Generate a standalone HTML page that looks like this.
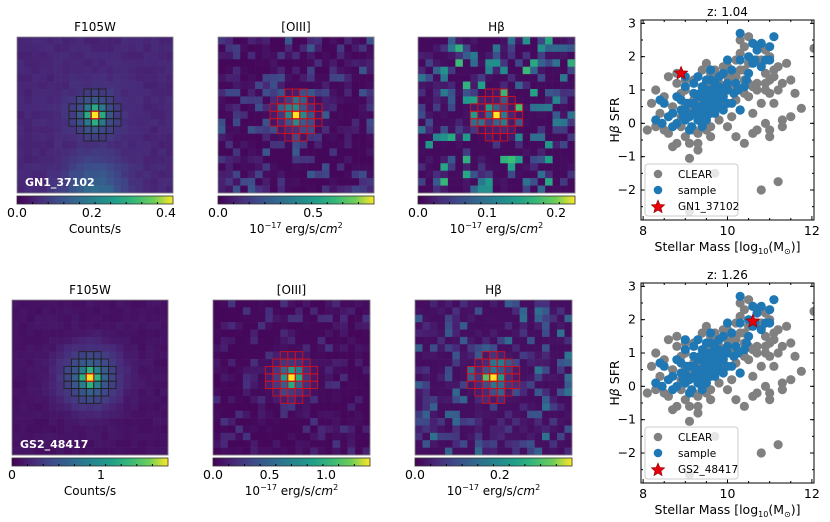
<!DOCTYPE html>
<html><head><meta charset="utf-8"><style>
html,body{margin:0;padding:0;background:#fff;}
svg{display:block;font-family:"DejaVu Sans","Liberation Sans",sans-serif;}
</style></head><body>
<svg id="fig" width="830" height="522" viewBox="0 0 830 522" xmlns="http://www.w3.org/2000/svg">
<defs>
<linearGradient id="vir" x1="0" x2="1" y1="0" y2="0">
<stop offset="0" stop-color="#440154"/><stop offset="0.13" stop-color="#482878"/><stop offset="0.25" stop-color="#3e4989"/><stop offset="0.38" stop-color="#31688e"/><stop offset="0.5" stop-color="#26828e"/><stop offset="0.63" stop-color="#1f9e89"/><stop offset="0.75" stop-color="#35b779"/><stop offset="0.88" stop-color="#6ece58"/><stop offset="1" stop-color="#fde725"/>
</linearGradient>
</defs>
</svg>
<script>
// Scatter data: [stellar mass, Hbeta SFR]
const clearMass = [8.1,8.2,8.3,8.3,8.4,8.5,8.6,8.6,8.7,8.8,8.8,8.9,9.0,9.0,9.1,9.1,9.2,9.2,9.3,9.3,9.4,9.4,9.5,9.5,9.6,9.6,9.7,9.8,9.8,9.9,10.0,10.0,10.1,10.1,10.2,10.2,10.3,10.3,10.4,10.4,10.5,10.5,10.6,10.6,10.7,10.7,10.8,10.8,10.9,10.9,11.0,11.0,11.1,11.1,11.2,11.3,11.3,11.4,11.5,11.6,12.05,11.75,11.2,10.8,9.7,9.1,10.4,10.6,11.0,8.9,9.0,10.3,10.5,10.9,11.3,11.0,10.2,9.9,9.6,10.1,10.9,11.5,8.5,8.7,9.3,9.8,8.9,9.1,9.3,9.5,9.7,9.9,10.1,10.3,10.5,10.7,10.9,11.1,9.2,9.4,9.6,9.8,10.0,10.2,10.4,10.6,10.8,11.0,11.2,8.8,9.0,9.2,9.5,9.7,10.0,10.4,10.7];
const clearSFR  = [-0.2,0.6,1.0,-0.1,0.3,0.8,1.4,-0.3,0.5,-0.6,1.2,0.2,-0.4,1.0,-1.05,-0.6,0.4,1.3,-0.3,-0.6,1.6,0.0,1.8,-0.2,-0.4,1.5,1.3,1.2,0.1,1.7,1.4,-0.1,1.0,0.2,1.9,-0.4,2.1,0.4,2.3,1.6,0.8,1.8,2.4,0.3,1.2,-0.2,2.3,0.6,1.5,0.0,2.0,-0.2,1.6,0.6,1.7,1.2,-0.1,1.8,1.3,0.9,2.25,0.45,-1.75,-2.0,-1.5,-2.65,-0.6,-0.3,-0.4,-0.1,0.6,2.5,2.6,2.2,0.1,0.9,0.7,0.5,0.9,1.5,1.0,0.2,-0.2,-0.7,-0.8,0.8,0.9,0.3,0.1,0.5,1.6,1.1,1.3,1.6,1.2,1.9,1.2,1.4,-0.2,0.6,-0.1,0.7,1.2,1.4,0.9,1.1,1.9,1.3,1.0,1.5,1.3,0.7,1.2,1.5,1.7,1.3,1.0];
const sampleMass = [8.3,8.4,8.45,8.5,8.6,8.7,8.8,8.8,8.9,9.0,9.0,9.1,9.1,9.2,9.2,9.3,9.3,9.4,9.4,9.5,9.5,9.6,9.6,9.7,9.7,9.8,9.8,9.9,9.9,10.0,10.0,10.1,10.2,10.3,10.3,10.4,10.5,10.5,10.6,10.7,10.8,10.8,10.9,11.0,11.0,11.1,10.3,9.4,9.6,10.6,9.5,9.2,9.0,10.15,8.9,9.0,9.1,9.2,9.3,9.3,9.4,9.4,9.5,9.5,9.5,9.6,9.6,9.6,9.7,9.7,9.8,9.8,9.9,9.9,10.0,10.0,9.15,9.25,9.35,9.45,9.55,9.65,9.75,9.85,8.7,8.95,9.05,9.35,9.55,9.75,10.1,10.25,10.45,10.65];
const sampleSFR  = [0.1,0.7,0.0,0.6,0.2,0.3,0.0,0.8,0.4,0.1,1.1,0.6,-0.2,0.3,0.9,1.4,0.5,0.8,0.2,1.0,0.4,0.6,1.3,0.9,0.3,1.1,0.5,0.8,1.5,1.0,1.9,0.6,1.2,1.9,0.4,1.1,1.5,2.0,1.8,2.2,2.4,1.7,1.9,2.3,1.9,2.6,2.7,-0.1,1.6,2.4,0.1,1.2,1.4,0.9,0.7,0.4,0.2,0.6,0.1,0.8,0.5,1.1,0.7,1.3,0.2,0.3,0.8,1.0,0.5,1.2,0.7,1.4,0.4,1.0,0.6,1.2,-0.1,0.4,0.9,0.6,0.9,0.5,0.7,0.9,-0.1,0.2,0.6,0.3,0.6,1.0,1.6,1.0,1.3,1.9];
const xTicks = [8,10,12];
const yTicks = [3,2,1,0,-1,-2];
const panels = [
  {z:"1.04", name:"GN1_37102", starMass:8.9, starSFR:1.5, top:20},
  {z:"1.26", name:"GS2_48417", starMass:10.6, starSFR:1.95, top:283}
];
const svg = document.getElementById('fig');
const NS = "http://www.w3.org/2000/svg";
function mk(tag, attrs, parent){const e=document.createElementNS(NS,tag);for(const k in attrs)e.setAttribute(k,attrs[k]);(parent||svg).appendChild(e);return e;}
function txt(s,x,y,attrs,parent){const e=mk('text',Object.assign({x:x,y:y},attrs),parent);e.innerHTML=s;return e;}

const vs=[[68,1,84],[72,40,120],[62,73,137],[49,104,142],[38,130,142],[31,158,137],[53,183,121],[110,206,88],[253,231,37]];
function vir(t){t=Math.max(0,Math.min(1,t));const p=t*(vs.length-1);const i=Math.min(vs.length-2,Math.floor(p));const f=p-i;const c=vs[i].map((v,k)=>Math.round(v+(vs[i+1][k]-v)*f));return `rgb(${c[0]},${c[1]},${c[2]})`;}
function hash(a,b,s){let h=Math.sin(a*127.1+b*311.7+s*74.7)*43758.5453;return h-Math.floor(h);}

const units="10<tspan dy='-5' font-size='8'>−17</tspan><tspan dy='5'> erg/s/</tspan><tspan font-style='italic'>cm</tspan><tspan dy='-5' font-size='8'>2</tspan>";
const imgs=[
 {title:"F105W",x:17,y:37,w:156,h:156,n:21,type:"f",seed:1,label:"GN1_37102",ticks:[["0.0",0],["0.2",0.48],["0.4",0.955]],cb:"Counts/s",grid:"#222"},
 {title:"[OIII]",x:218,y:37,w:156,h:156,n:21,type:"o",seed:2,ticks:[["0.0",0],["0.5",0.61]],cb:units,grid:"#d0101a"},
 {title:"Hβ",x:418,y:37,w:157,h:156,n:21,type:"h",seed:3,ticks:[["0.0",0],["0.1",0.44],["0.2",0.88]],cb:units,grid:"#d0101a"},
 {title:"F105W",x:12,y:300,w:156,h:155,n:21,type:"f2",seed:4,label:"GS2_48417",ticks:[["0",0],["1",0.57]],cb:"Counts/s",grid:"#222"},
 {title:"[OIII]",x:213,y:300,w:157,h:155,n:21,type:"o2",seed:5,ticks:[["0.0",0],["0.5",0.36],["1.0",0.72]],cb:units,grid:"#d0101a"},
 {title:"Hβ",x:415,y:300,w:157,h:155,n:21,type:"h2",seed:6,ticks:[["0.0",0],["0.2",0.54]],cb:units,grid:"#d0101a"}
];
const gridMask=[[0,0,1,1,1,0,0],[0,1,1,1,1,1,0],[1,1,1,1,1,1,1],[1,1,1,1,1,1,1],[1,1,1,1,1,1,1],[0,1,1,1,1,1,0],[0,0,1,1,1,0,0]];
imgs.forEach((p,pi)=>{
  const g=mk('g',{});
  
  
  const t=txt(p.title,p.x+p.w/2,p.y-6,{'text-anchor':'middle','font-size':'12'},g);
  
  
  const cs=p.w/p.n, ch=p.h/p.n, c=10;
  for(let i=0;i<p.n;i++)for(let j=0;j<p.n;j++){
    const dx=j-c, dy=i-c, r2=dx*dx+dy*dy, nz=hash(i,j,p.seed);
    let v;
    if(p.type==="f"){v=0.1+0.04*nz+0.85*Math.exp(-r2/1.2)+0.22*Math.exp(-r2/10);if(i>14)v+=0.28*Math.exp(-((j-10)*(j-10))/18)*(i-14)/6;}
    else if(p.type==="f2"){v=0.04+0.03*nz+0.9*Math.exp(-r2/1.0)+0.35*Math.exp(-r2/14);}
    else if(p.type==="o"){v=0.02+0.3*Math.pow(nz,4)+0.95*Math.exp(-r2/0.8)+0.3*Math.exp(-r2/5);}
    else if(p.type==="o2"){v=0.02+0.15*Math.pow(nz,4)+0.95*Math.exp(-r2/0.8)+0.35*Math.exp(-r2/5);}
    else if(p.type==="h"){v=0.03+0.75*Math.pow(nz,5)+0.9*Math.exp(-r2/0.7)+0.15*Math.exp(-r2/5);}
    else {v=0.04+0.4*Math.pow(nz,4)+0.95*Math.exp(-r2/0.6)+0.25*Math.exp(-r2/5);}
    mk('rect',{x:(p.x+j*cs).toFixed(2),y:(p.y+i*ch).toFixed(2),width:(cs+0.3).toFixed(2),height:(ch+0.3).toFixed(2),fill:vir(v)},g);
  }
  for(let a=0;a<7;a++)for(let b=0;b<7;b++)if(gridMask[a][b])
    mk('rect',{x:p.x+(c-3+b)*cs,y:p.y+(c-3+a)*ch,width:cs,height:ch,fill:'none',stroke:p.grid,'stroke-width':'0.9'},g);
  mk('rect',{x:p.x+c*cs,y:p.y+c*ch,width:cs,height:ch,fill:'#fde725',stroke:'#d0101a','stroke-width':'1.2'},g);
  mk('rect',{x:p.x,y:p.y,width:p.w,height:p.h,fill:'none',stroke:'#888','stroke-width':'0.8'},g);
  if(p.label){const l=txt(p.label,p.x+8,p.y+p.h-7,{'font-size':'11','font-weight':'bold',fill:'#fff'},g);}
  const cy=p.y+p.h+3;
  const cb=mk('rect',{x:p.x,y:cy,width:p.w,height:8,fill:'url(#vir)',stroke:'#333','stroke-width':'0.8'},g);
  
  
  for(let k=1;k<10;k++)mk('line',{x1:p.x+p.w*k/10,x2:p.x+p.w*k/10,y1:cy+6,y2:cy+8,stroke:'#000','stroke-width':'1'},g);
  p.ticks.forEach(tk=>{const tt=txt(tk[0],p.x+p.w*tk[1],cy+21,{'text-anchor':'middle','font-size':'12.5'},g);});
  const cl=txt(p.cb,p.x+p.w/2,cy+37,{'text-anchor':'middle','font-size':'12'},g);
  
  
});

panels.forEach((pn,pi)=>{
  const L=641,R=814,T=pn.top,B=pn.top+200;
  const xmin=7.95,xmax=12.05,ymin=-2.9,ymax=3.1;
  const X=v=>L+(v-xmin)/(xmax-xmin)*(R-L);
  const Y=v=>B-(v-ymin)/(ymax-ymin)*(B-T);
  const g=mk('g',{});
  
  
  const cp='cp'+pi;
  const clip=mk('clipPath',{id:cp},g);mk('rect',{x:L,y:T,width:R-L,height:B-T},clip);
  const pts=mk('g',{'clip-path':`url(#${cp})`},g);
  clearMass.forEach((m,i)=>{const c=mk('circle',{cx:X(m),cy:Y(clearSFR[i]),r:4.6,fill:'#808080'},pts);});
  sampleMass.forEach((m,i)=>{const c=mk('circle',{cx:X(m),cy:Y(sampleSFR[i]),r:4.6,fill:'#1f77b4'},pts);});
  const star=(cx,cy,r,parent)=>{let d='';for(let k=0;k<10;k++){const a=-Math.PI/2+k*Math.PI/5;const rr=k%2?r*0.45:r;d+=(k?'L':'M')+(cx+rr*Math.cos(a)).toFixed(2)+','+(cy+rr*Math.sin(a)).toFixed(2);}return mk('path',{d:d+'Z',fill:'#e8000b',stroke:'#800','stroke-width':'0.6'},parent);};
  const s=star(X(pn.starMass),Y(pn.starSFR),7,pts);
  
  
  mk('rect',{x:L,y:T,width:R-L,height:B-T,fill:'none',stroke:'#000','stroke-width':'1'},g);
  xTicks.forEach(v=>{mk('line',{x1:X(v),x2:X(v),y1:B,y2:B-4,stroke:'#000'},g);mk('line',{x1:X(v),x2:X(v),y1:T,y2:T+4,stroke:'#000'},g);
    const t=txt(v,X(v),B+15,{'text-anchor':'middle','font-size':'12.5'},g);});
  for(let v=8.5;v<12;v+=0.5){mk('line',{x1:X(v),x2:X(v),y1:B,y2:B-2,stroke:'#000'},g);mk('line',{x1:X(v),x2:X(v),y1:T,y2:T+2,stroke:'#000'},g);}
  yTicks.forEach(v=>{mk('line',{x1:L,x2:L+4,y1:Y(v),y2:Y(v),stroke:'#000'},g);mk('line',{x1:R,x2:R-4,y1:Y(v),y2:Y(v),stroke:'#000'},g);
    const t=txt(String(v).replace('-','−'),L-5,Y(v)+4,{'text-anchor':'end','font-size':'12.5'},g);});
  for(let v=-2.5;v<3;v+=0.5){mk('line',{x1:L,x2:L+2,y1:Y(v),y2:Y(v),stroke:'#000'},g);mk('line',{x1:R,x2:R-2,y1:Y(v),y2:Y(v),stroke:'#000'},g);}
  const tt=txt('z: '+pn.z,(L+R)/2,T-4,{'text-anchor':'middle','font-size':'12'},g);
  const xl=txt('Stellar Mass [log<tspan dy="3" font-size="8">10</tspan><tspan dy="-3">(M</tspan><tspan dy="3" font-size="8">⊙</tspan><tspan dy="-3">)]</tspan>',(L+R)/2,B+31,{'text-anchor':'middle','font-size':'12.5'},g);
  
  const yl=txt('H<tspan font-style="italic">β</tspan> SFR',0,0,{'text-anchor':'middle','font-size':'12.5',transform:`translate(${L-22},${(T+B)/2}) rotate(-90)`},g);
  
  const lg=mk('g',{},g);
  
  
  mk('rect',{x:L+4,y:B-56,width:93,height:52,rx:3,fill:'#fff','fill-opacity':'0.8',stroke:'#ccc'},lg);
  mk('circle',{cx:L+17,cy:B-46,r:4.3,fill:'#808080'},lg);txt('CLEAR',L+37,B-42,{'font-size':'10.5'},lg);
  mk('circle',{cx:L+17,cy:B-30,r:4.3,fill:'#1f77b4'},lg);txt('sample',L+37,B-26,{'font-size':'10.5'},lg);
  star(L+17,B-13,7,lg);txt(pn.name,L+37,B-10,{'font-size':'10.5'},lg);
});
</script>
</body></html>
